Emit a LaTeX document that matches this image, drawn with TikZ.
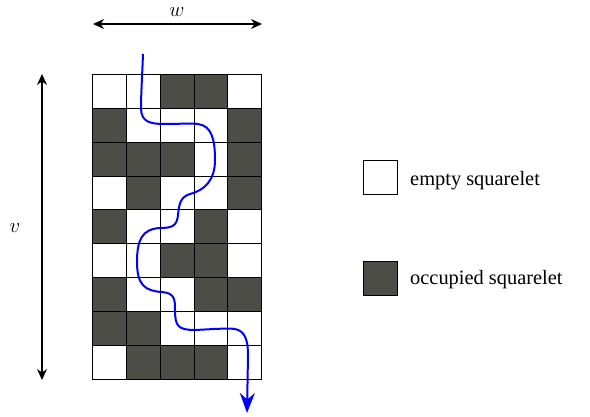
\documentclass[tikz,border=0pt]{standalone}
\usepackage{fontspec}
\setmainfont{Liberation Serif}
\usetikzlibrary{arrows.meta}
\definecolor{occ}{RGB}{77,77,72}
\begin{document}
\begin{tikzpicture}[x=1pt,y=-1pt,
  cell/.style={draw=black,line width=0.9pt,minimum size=33.9pt,inner sep=0pt,outer sep=0pt,anchor=north west},
  emptycell/.style={cell,fill=white},
  occcell/.style={cell,fill=occ},
  dim/.style={line width=1.1pt,{Stealth[length=11pt,width=10pt]}-{Stealth[length=11pt,width=10pt]}},
  lbl/.style={font=\fontsize{20.4}{24}\selectfont,anchor=west,inner sep=0pt},
  path/.style={blue,line width=2pt,-{Stealth[length=20pt,width=15pt]}}]
\useasboundingbox (0,0) rectangle (590,417);
\foreach \r/\row in {0/{0,0,1,1,0},1/{1,0,0,0,1},2/{1,1,1,0,1},3/{0,1,0,0,1},4/{1,0,0,1,0},5/{0,0,1,1,0},6/{1,0,0,1,1},7/{1,1,0,0,0},8/{0,1,1,1,0}}{
  \foreach \v [count=\c from 0] in \row {
    \ifnum\v=1
      \node[occcell] (c-\r-\c) at ({92.3+33.9*\c},{74.3+33.9*\r}) {};
    \else
      \node[emptycell] (c-\r-\c) at ({92.3+33.9*\c},{74.3+33.9*\r}) {};
    \fi
  }
}
% dimension arrows
\coordinate (wl) at (93,24);
\coordinate (wr) at (262,24);
\draw[dim] (wl) -- (wr);
\node[inner sep=0pt] (w) at (177,12) {\fontsize{20}{24}\selectfont$w$};
\coordinate (vt) at (42,74);
\coordinate (vb) at (42,380);
\draw[dim] (vt) -- (vb);
\node[inner sep=0pt] (v) at (15,228) {\fontsize{20}{24}\selectfont$v$};
% path
\coordinate (ps) at (143,54);
\coordinate (pe) at (247,413);
\draw[path] (ps) .. controls (142,80) and (141,95) .. (141,108)
  .. controls (141,122) and (150,124) .. (165,124)
  .. controls (180,124) and (190,123) .. (198,124)
  .. controls (212,126) and (215,140) .. (215,160)
  .. controls (215,180) and (205,190) .. (190,194)
  .. controls (180,197) and (179,205) .. (178,215)
  .. controls (177,226) and (172,228) .. (160,228)
  .. controls (142,229) and (137,240) .. (137,262)
  .. controls (137,285) and (145,291) .. (162,292)
  .. controls (175,293) and (175,300) .. (175,310)
  .. controls (175,326) and (178,330) .. (195,330)
  .. controls (215,329) and (228,328) .. (235,329)
  .. controls (245,331) and (248,340) .. (248,355)
  -- (pe);
% legend
\node[draw=black,line width=0.9pt,fill=white,minimum size=34pt,inner sep=0pt] (le) at (380,177) {};
\node[lbl] (lt) at (410,181) {empty squarelet};
\node[draw=black,line width=0.9pt,fill=occ,minimum size=34pt,inner sep=0pt] (lo) at (380,278) {};
\node[lbl] (lot) at (410,280) {occupied squarelet};
\end{tikzpicture}
\end{document}
